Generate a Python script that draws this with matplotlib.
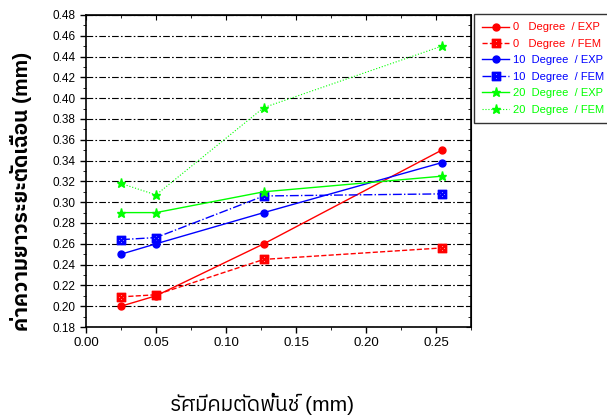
import matplotlib
matplotlib.use("Agg")
from matplotlib import pyplot as plt
from matplotlib import font_manager

# data
radius = [0.025, 0.05, 0.127, 0.254]
d0_exp = [0.200, 0.210, 0.260, 0.350]
d0_fem = [0.209, 0.211, 0.245, 0.256]
d10_exp = [0.250, 0.260, 0.290, 0.338]
d10_fem = [0.264, 0.266, 0.306, 0.308]
d20_exp = [0.290, 0.290, 0.310, 0.325]
d20_fem = [0.318, 0.307, 0.391, 0.450]

thai = [f.name for f in font_manager.fontManager.ttflist if 'thai' in f.name.lower()]
plt.rcParams['font.family'] = ['Liberation Sans'] + sorted(set(thai)) + ['DejaVu Sans']

fig = plt.figure(figsize=(6.07, 4.19), dpi=100)
ax = fig.add_axes([86 / 607, 1 - 327 / 419, 385 / 607, 312 / 419])

red, blue, green = '#ff0000', '#0000ff', '#00ff00'
box = r'$\boxtimes$'
ax.plot(radius, d0_exp, color=red, lw=1, marker='o', ms=5, label='0   Degree  / EXP')
ax.plot(radius, d0_fem, color=red, lw=1, ls='--', marker=box, ms=6, label='0   Degree  / FEM')
ax.plot(radius, d10_exp, color=blue, lw=1, marker='o', ms=5, label='10  Degree  / EXP')
ax.plot(radius, d10_fem, color=blue, lw=1, ls='-.', marker=box, ms=6, label='10  Degree  / FEM')
ax.plot(radius, d20_exp, color=green, lw=1, marker='*', ms=6.5, label='20  Degree  / EXP')
ax.plot(radius, d20_fem, color=green, lw=0.8, ls=':', marker='*', ms=6.5, label='20  Degree  / FEM')

ax.set_xlim(0, 0.275)
ax.set_ylim(0.18, 0.48)
xmaj = [0, 0.05, 0.10, 0.15, 0.20, 0.25]
xmin = [0.025, 0.075, 0.125, 0.175, 0.225, 0.275]
ymaj = [0.18 + 0.02 * i for i in range(16)]
ymin = [0.19 + 0.02 * i for i in range(15)]
ax.set_xticks(xmaj)
ax.set_xticks(xmin, minor=True)
ax.set_yticks(ymaj)
ax.set_yticks(ymin, minor=True)
ax.xaxis.set_major_formatter(matplotlib.ticker.FormatStrFormatter('%.2f'))
ax.yaxis.set_major_formatter(matplotlib.ticker.FormatStrFormatter('%.2f'))
ax.tick_params(width=1)
ax.tick_params(axis='x', labelsize=9.5)
ax.tick_params(axis='y', labelsize=8.5)
ax.tick_params(which='major', length=4)
ax.tick_params(which='minor', length=2.5)
ax.grid(axis='y', color='black', ls=(0, (6, 2, 1.5, 2)), lw=0.8)
for s in ax.spines.values():
    s.set_linewidth(1.2)

ax2 = ax.secondary_yaxis('right')
ax2.set_yticks(ymaj)
ax2.set_yticks(ymin, minor=True)
ax2.tick_params(which='both', direction='in', labelright=False)
ax3 = ax.secondary_xaxis('top')
ax3.set_xticks(xmaj)
ax3.set_xticks(xmin, minor=True)
ax3.tick_params(which='both', direction='in', labeltop=False)

fig.text(21 / 607, 1 - 191 / 419, 'ค่าความยาวระยะตัดเฉือน (mm)', fontsize=15, fontweight='bold',
         rotation=90, ha='center', va='center')
fig.text(262 / 607, 1 - 404 / 419, 'รัศมีคมตัดพั้นช์ (mm)', fontsize=15, ha='center', va='center')

leg = ax.legend(loc='upper left', bbox_to_anchor=(1.008, 1.003), fontsize=8, frameon=True,
                fancybox=False, edgecolor='black', handlelength=2.4, handletextpad=0.35,
                labelspacing=0.58, borderpad=0.75, borderaxespad=0)
leg.get_frame().set_linewidth(1)
for t, l in zip(leg.get_texts(), leg.get_lines()):
    t.set_color(l.get_color())

fig.savefig('out.png', dpi=100)
